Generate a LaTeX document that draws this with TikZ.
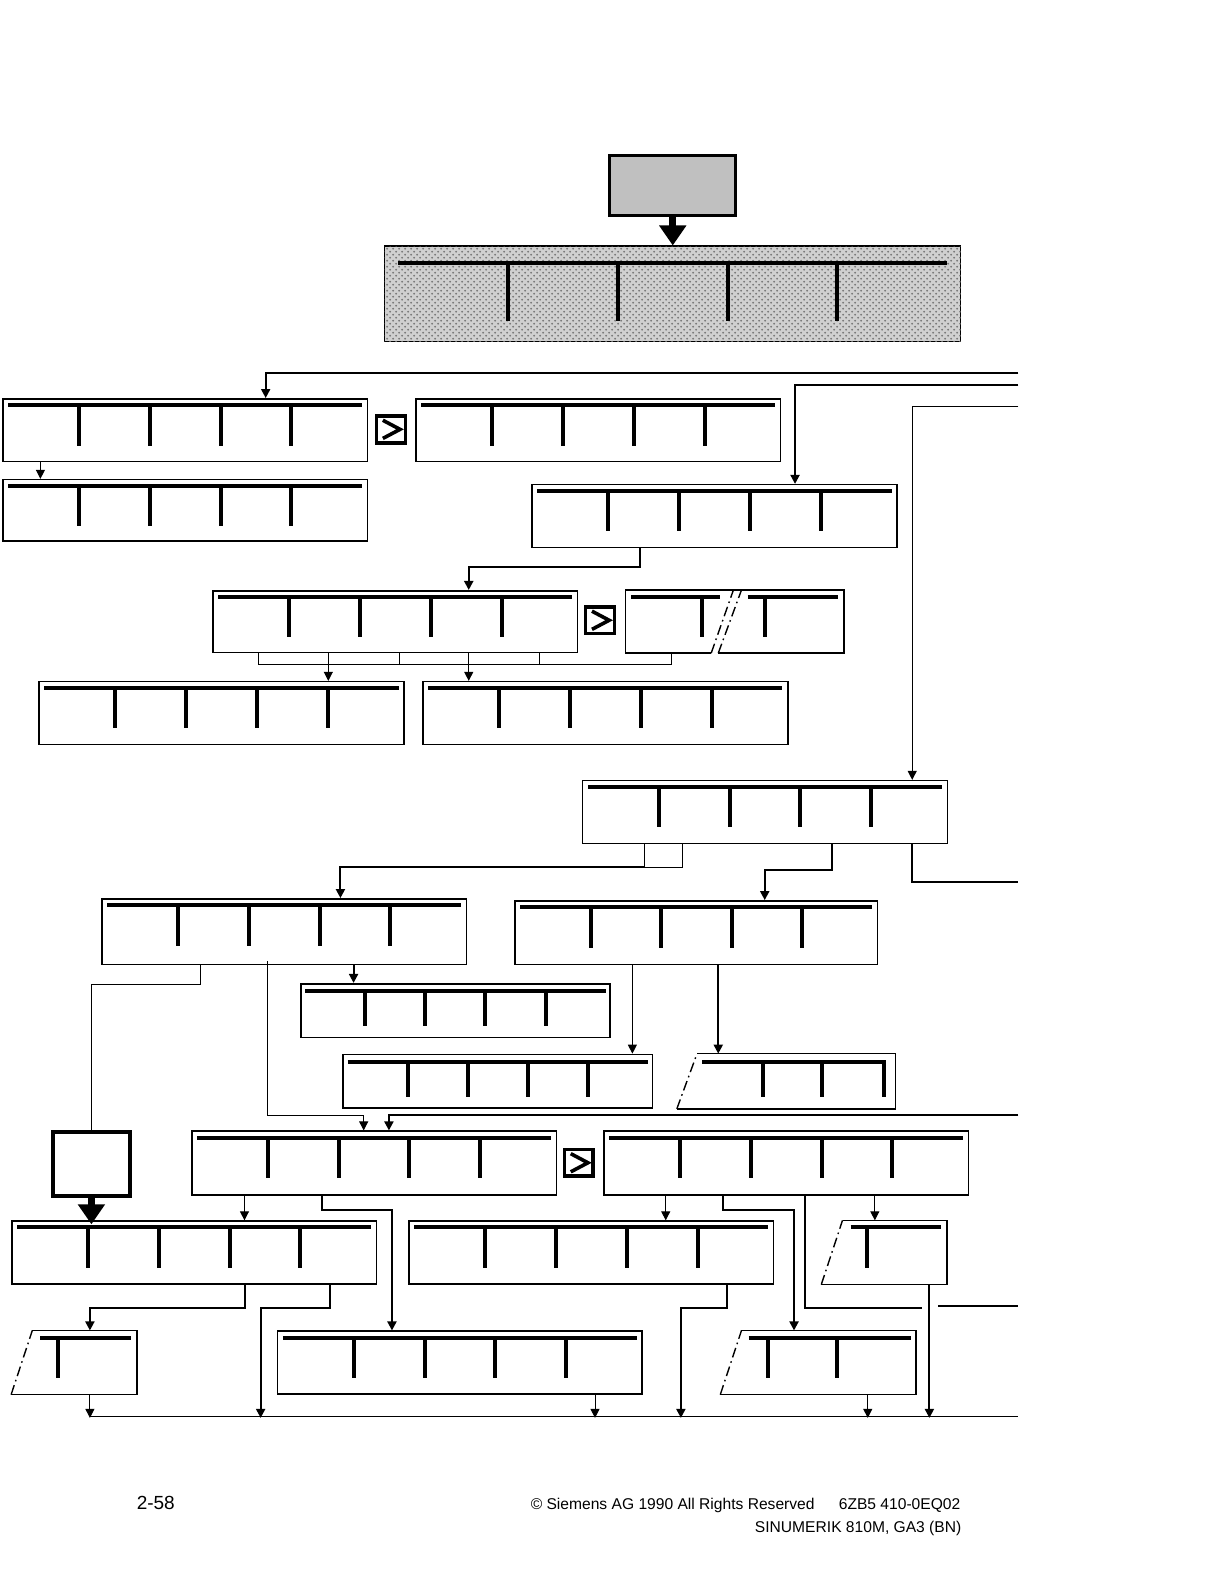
\documentclass[tikz,border=0pt]{standalone}
\usepackage{fontspec}
\setmainfont{Liberation Sans}
\usetikzlibrary{positioning, arrows.meta, calc, patterns}
\definecolor{kastengrau}{HTML}{C0C0C0}
\definecolor{rastergrau}{HTML}{D0D0D0}

\tikzset{
  menu/.style={draw, line width=0.8pt, anchor=north west, inner sep=0pt,
    minimum width=182.3pt, minimum height=31.3pt},
  blind/.style={draw=none},
  balken/.style={line width=2pt},
  rahmen/.style={line width=0.8pt},
  strich/.style={line width=0.7pt, dash pattern=on 5pt off 2pt on 0.8pt off 2pt},
  verb/.style={line width=0.5pt, -{Triangle[length=4.5pt,width=4.5pt]}},
  verbdick/.style={line width=1pt, -{Triangle[length=4.5pt,width=4.5pt]}},
  linie/.style={line width=0.5pt},
  liniedick/.style={line width=1pt},
  blockpfeil/.style={line width=3.5pt, -{Triangle[length=10pt,width=13pt]}},
  weiterbox/.style={draw, line width=1.8pt, minimum width=14.4pt,
    minimum height=13.4pt, inner sep=0pt},
  fuss/.style={font=\fontsize{7.8}{9}\selectfont, inner sep=0pt},
}

% Softkeyleiste: Knoten, Einzug, Abstand oben, Laenge der Striche
\newcommand{\leiste}[4]{%
  \coordinate (#1-l) at ([shift={(#2,#3)}]#1.north west);
  \coordinate (#1-r) at ([shift={(-#2,#3)}]#1.north east);
  \draw[balken] (#1-l) -- (#1-r);
  \foreach \k in {1,...,4}
    \draw[balken] ($(#1-l)!\k/5!(#1-r)$) -- ++(0,#4);
}
% Weiterschalttaste
\newcommand{\weiter}[1]{%
  \draw[line width=1.8pt, line join=miter]
    ([shift={(-8,-9)}]#1.center) -- ([shift={(9,0)}]#1.center)
    -- ([shift={(-8,9)}]#1.center);
}
% abgeschnittener Kasten mit schraeger Kante
\newcommand{\schraeg}[2]{%
  \draw[rahmen] ([shift={(#2,0)}]#1.north west) -- (#1.north east)
    -- (#1.south east) -- (#1.south west);
  \draw[strich] (#1.south west) -- ([shift={(#2,0)}]#1.north west);
}

\begin{document}
\begin{tikzpicture}[x=0.505pt, y=-0.505pt]
\useasboundingbox (0,0) rectangle (1212,1568);

% Einstieg
\node[menu, fill=kastengrau, line width=1.5pt, minimum width=63.1pt,
      minimum height=30.3pt] (grund) at (602,152) {};
\node[menu, fill=rastergrau, postaction={pattern=crosshatch dots, pattern color=black!55},
      minimum width=287.9pt, minimum height=47.5pt] (haupt) at (380,243) {};
\leiste{haupt}{14}{17}{58}
\draw[blockpfeil] (grund.south) -- (grund.south |- haupt.north);

% freie Enden am Rand
\coordinate (rand1) at (1008,369);
\coordinate (rand2) at (1008,381);
\coordinate (rand3) at (1008,402);
\coordinate (rand4) at (1008,873);
\coordinate (rand5) at (1008,1104);
\coordinate (rand6) at (1008,1293);
\coordinate (luecke) at (929,1293);
\coordinate (sammelL) at (89,1402);
\coordinate (sammelR) at (1008,1402);

% Ebene 1
\node[menu] (ma) at (2,394) {};
\leiste{ma}{6}{7}{40}
\node[weiterbox] (w1) at (387,425) {};
\weiter{w1}
\node[menu] (mb) at (411,394) {};
\leiste{mb}{6}{7}{40}
\node[menu, minimum height=30.8pt] (mc) at (2,474) {};
\leiste{mc}{6}{7}{40}
\node[menu] (md) at (526,479) {};
\leiste{md}{6}{7}{40}

% Ebene 2
\node[menu, minimum height=30.8pt] (me) at (210,584) {};
\leiste{me}{6}{7}{40}
\node[weiterbox] (w2) at (594,614) {};
\weiter{w2}
\node[menu, blind, minimum width=108.6pt, minimum height=30.8pt] (mf) at (619,584) {};
\draw[rahmen] ([shift={(85,0)}]mf.south west) -- (mf.south west) -- (mf.north west)
  -- (mf.north east) -- (mf.south east) -- ([shift={(92,0)}]mf.south west);
\draw[strich] ([shift={(85,0)}]mf.south west) -- ([shift={(107,0)}]mf.north west);
\draw[strich] ([shift={(92,0)}]mf.south west) -- ([shift={(115,0)}]mf.north west);
\draw[balken] ([shift={(6,7)}]mf.north west) -- ([shift={(94,7)}]mf.north west);
\draw[balken] ([shift={(76,7)}]mf.north west) -- ++(0,40);
\draw[balken] ([shift={(121,7)}]mf.north west) -- ([shift={(-6,7)}]mf.north east);
\draw[balken] ([shift={(138,7)}]mf.north west) -- ++(0,40);
\node[menu] (mg) at (38,674) {};
\leiste{mg}{6}{7}{40}
\node[menu] (mi) at (418,674) {};
\leiste{mi}{6}{7}{40}

% Ebene 3
\node[menu] (mh) at (576,772) {};
\leiste{mh}{6}{7}{40}
\node[menu, minimum height=32.8pt] (mj) at (100,889) {};
\leiste{mj}{6}{7}{40}
\node[menu, minimum width=181.3pt, minimum height=31.8pt] (mk) at (509,891) {};
\leiste{mk}{6}{7}{40}
\node[menu, minimum width=154.5pt, minimum height=26.8pt] (mm) at (297,973) {};
\leiste{mm}{5}{8}{35}
\node[menu, minimum width=154.5pt, minimum height=26.8pt] (mp) at (339,1043) {};
\leiste{mp}{5}{8}{35}
\node[menu, blind, minimum width=108.6pt, minimum height=26.8pt] (mq) at (670,1043) {};
\schraeg{mq}{20}
\draw[balken, line join=miter] ([shift={(25,8)}]mq.north west)
  -- ([shift={(-12,8)}]mq.north east) -- ++(0,35);
\foreach \x in {85,144}
  \draw[balken] ([shift={(\x,8)}]mq.north west) -- ++(0,35);

% Ebene 4
\node[menu, line width=2pt, minimum width=38.9pt, minimum height=31.8pt] (ml) at (50,1119) {};
\node[menu, minimum height=31.8pt] (mn) at (189,1119) {};
\leiste{mn}{6}{7}{40}
\node[weiterbox] (w3) at (573,1151) {};
\weiter{w3}
\node[menu, minimum height=31.8pt] (mo) at (597,1119) {};
\leiste{mo}{6}{7}{40}
\node[menu] (mr) at (11,1208) {};
\leiste{mr}{6}{7}{40}
\node[menu] (ms) at (404,1208) {};
\leiste{ms}{6}{7}{40}
\node[menu, blind, minimum width=62.1pt] (mu) at (813,1208) {};
\schraeg{mu}{21}
\draw[balken] ([shift={(29,7)}]mu.north west) -- ([shift={(-6,7)}]mu.north east);
\draw[balken] ([shift={(45,7)}]mu.north west) -- ++(0,40);
\node[menu, blind, minimum width=62.1pt] (mw) at (11,1317) {};
\schraeg{mw}{21}
\draw[balken] ([shift={(29,7)}]mw.north west) -- ([shift={(-6,7)}]mw.north east);
\draw[balken] ([shift={(46,7)}]mw.north west) -- ++(0,40);
\node[menu] (mt) at (274,1317) {};
\leiste{mt}{6}{7}{40}
\node[menu, blind, minimum width=97pt] (mv) at (713,1317) {};
\schraeg{mv}{21}
\draw[balken] ([shift={(28,7)}]mv.north west) -- ([shift={(-5,7)}]mv.north east);
\foreach \x in {47,116}
  \draw[balken] ([shift={(\x,7)}]mv.north west) -- ++(0,40);

% Verbindungen
\draw[verbdick] (rand1) -| ([shift={(261,0)}]ma.north west);
\draw[verbdick] (rand2) -| ([shift={(261,0)}]md.north west);
\draw[verb] (rand3) -| ([shift={(327,0)}]mh.north west);
\draw[verb] ([shift={(38,0)}]ma.south west) -- ([shift={(38,0)}]mc.north west);
\draw[verbdick] ([shift={(108,0)}]md.south west) -- ++(0,19) -| ([shift={(254,0)}]me.north west);
\draw[linie] ([shift={(46,0)}]me.south west) -- ++(0,11) -| ([shift={(46,0)}]mf.south west);
\draw[linie] ([shift={(185,0)}]me.south west) -- ++(0,11);
\draw[linie] ([shift={(324,0)}]me.south west) -- ++(0,11);
\draw[verb] ([shift={(115,0)}]me.south west) -- ([shift={(287,0)}]mg.north west);
\draw[verb] ([shift={(254,0)}]me.south west) -- ([shift={(46,0)}]mi.north west);
\draw[linie] ([shift={(62,0)}]mh.south west) -- ++(0,23) -| ([shift={(100,0)}]mh.south west);
\draw[verbdick] ([shift={(62,23)}]mh.south west) -| ([shift={(237,0)}]mj.north west);
\draw[verbdick] ([shift={(248,0)}]mh.south west) -- ++(0,26) -| ([shift={(248,0)}]mk.north west);
\draw[liniedick] ([shift={(327,0)}]mh.south west) |- (rand4);
\draw[linie] ([shift={(98,0)}]mj.south west) -- ++(0,19) -| (ml.north);
\draw[verbdick] ([shift={(250,0)}]mj.south west) -- ([shift={(53,0)}]mm.north west);
\draw[verb] ([shift={(165,-4)}]mj.south west) |- ([shift={(171,-15)}]mn.north west)
  -- ([shift={(171,0)}]mn.north west);
\draw[verbdick] (rand5) -| ([shift={(196,0)}]mn.north west);
\draw[verb] ([shift={(117,0)}]mk.south west) -- ([shift={(287,0)}]mp.north west);
\draw[verbdick] ([shift={(202,0)}]mk.south west) -- ([shift={(41,0)}]mq.north west);
\draw[blockpfeil] (ml.south) -- ([yshift=-2pt]ml.south |- mr.north);
\draw[verb] ([shift={(53,0)}]mn.south west) -- ([shift={(231,0)}]mr.north west);
\draw[verbdick] ([shift={(130,0)}]mn.south west) -- ++(0,14) -| ([shift={(114,0)}]mt.north west);
\draw[verb] ([shift={(62,0)}]mo.south west) -- ([shift={(255,0)}]ms.north west);
\draw[verbdick] ([shift={(119,0)}]mo.south west) -- ++(0,14) -| ([shift={(73,0)}]mv.north west);
\draw[liniedick] ([shift={(200,0)}]mo.south west) -- ++(0,111) -- ++(116,0);
\draw[liniedick] (luecke) -- (rand6);
\draw[verb] ([shift={(269,0)}]mo.south west) -- ([shift={(53,0)}]mu.north west);
\draw[verbdick] ([shift={(107,0)}]mu.south west) -- ++(0,132);
\draw[verbdick] ([shift={(232,0)}]mr.south west) -- ++(0,23) -| ([shift={(78,0)}]mw.north west);
\draw[verbdick] ([shift={(316,0)}]mr.south west) -- ++(0,23) -- ++(-69,0) -- ++(0,109);
\draw[verb] ([shift={(78,0)}]mw.south west) -- ++(0,23);
\draw[verb] ([shift={(315,0)}]mt.south west) -- ++(0,23);
\draw[verbdick] ([shift={(316,0)}]ms.south west) -- ++(0,23) -- ++(-46,0) -- ++(0,109);
\draw[verb] ([shift={(146,0)}]mv.south west) -- ++(0,23);
\draw[linie] (sammelL) -- (sammelR);

% Fusszeile
\node[fuss, font=\fontsize{9.5}{11}\selectfont, anchor=base west] (seite) at (135,1494) {2-58};
\node[fuss, anchor=base west] (recht) at (525,1494) {© Siemens AG 1990 All Rights Reserved};
\node[fuss, anchor=base east] (bestell) at (951,1494) {6ZB5 410-0EQ02};
\node[fuss, anchor=base east] (geraet) at (952,1517) {SINUMERIK 810M, GA3 (BN)};
\end{tikzpicture}
\end{document}
